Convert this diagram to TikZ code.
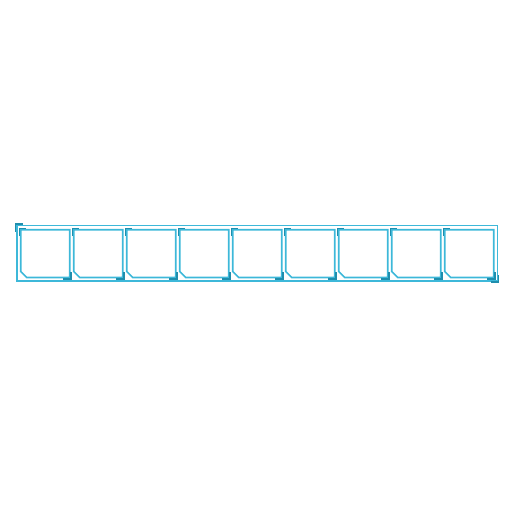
\documentclass[tikz,border=0pt]{standalone}
\begin{document}
\begin{tikzpicture}[x=1pt,y=-1pt,
  frameline/.style={draw=framecol,line width=1.6pt},
  accent/.style={draw=accentcol,line width=1.5pt},
]
\definecolor{framecol}{HTML}{3DB8D9}
\definecolor{accentcol}{HTML}{1F8EAD}
\useasboundingbox (0,0) rectangle (512,512);
% outer frame
\draw[frameline] (16.7,225.3) rectangle (497.3,280.7);
\draw[accent] (15.4,231.5) -- (15.4,224) -- (23,224);
\draw[accent] (490.5,282) -- (498.6,282) -- (498.6,274.5);
% inner frames
\foreach \i in {0,...,8}{
  \pgfmathsetmacro{\xl}{20.7+53*\i}
  \pgfmathsetmacro{\xr}{\xl+49}
  \draw[frameline] (\xl,229.7) -- (\xr,229.7) -- (\xr,277.5) -- (\xl+6,277.5) -- (\xl,271.5) -- cycle;
  \draw[accent] (\xl-1.4,235.5) -- (\xl-1.4,228.3) -- (\xl+5.5,228.3);
  \draw[accent] (\xr-6.5,278.9) -- (\xr+1.4,278.9) -- (\xr+1.4,272);
}
\end{tikzpicture}
\end{document}
